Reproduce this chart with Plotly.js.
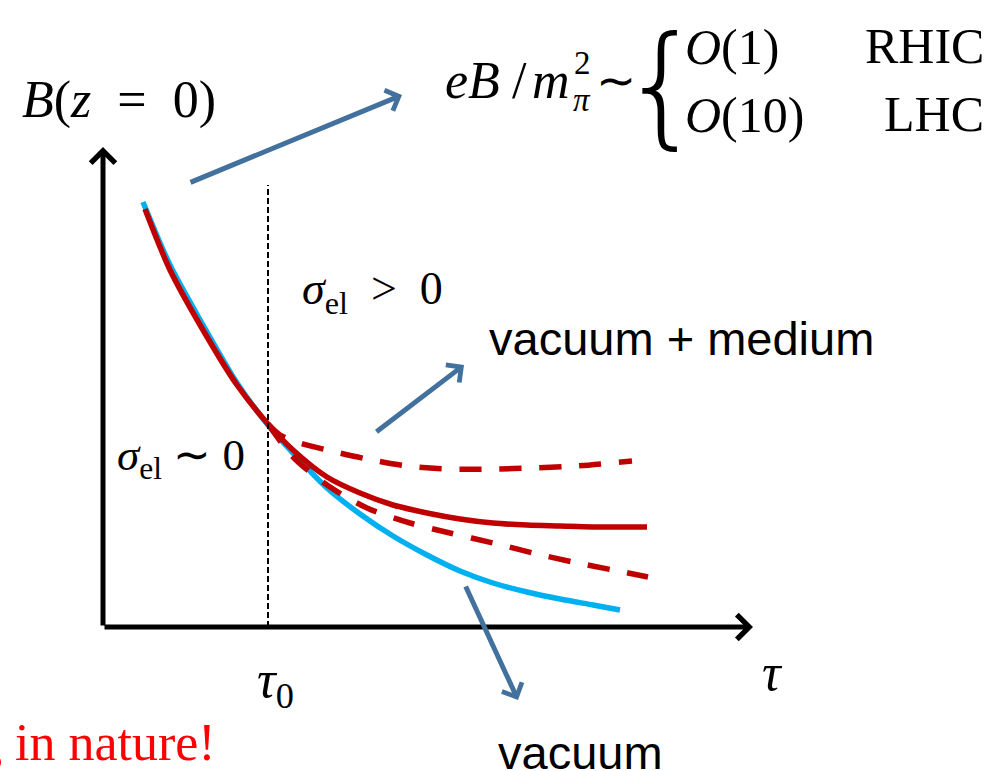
<!DOCTYPE html>
<html>
<head>
<meta charset="utf-8">
<script src="https://cdn.plot.ly/plotly-3.0.1.min.js"></script>
<style>
  html, body { margin: 0; padding: 0; background: #ffffff; }
  #chart { width: 1002px; height: 771px; }
</style>
</head>
<body>
<div id="chart"></div>
<script>
// Schematic decay of the magnetic field B(z=0) with proper time tau.
// tau in arbitrary units (tau0 = 1.65), B in arbitrary units.

// vacuum field (cyan)
const tauVacuum = [0.40, 0.67, 1.00, 1.34, 1.65, 1.90, 2.24, 2.57, 2.90, 3.24, 3.57, 3.90, 4.24, 4.57, 4.90, 5.17];
const bVacuum   = [4.25, 3.62, 3.02, 2.44, 2.02, 1.74, 1.39, 1.13, 0.91, 0.72, 0.56, 0.44, 0.35, 0.28, 0.22, 0.17];

// vacuum + medium (solid red)
const tauMedium = [0.42, 0.67, 1.00, 1.34, 1.65, 1.90, 2.24, 2.57, 2.90, 3.24, 3.57, 3.90, 4.24, 4.57, 4.90, 5.44];
const bMedium   = [4.18, 3.57, 2.97, 2.42, 2.03, 1.77, 1.50, 1.34, 1.22, 1.14, 1.08, 1.04, 1.02, 1.01, 1.00, 1.00];

// upper bound of the medium response (dashed red)
const tauUpper = [1.65, 1.77, 1.97, 2.24, 2.64, 3.04, 3.47, 3.90, 4.30, 4.74, 5.29];
const bUpper   = [2.03, 1.92, 1.84, 1.77, 1.68, 1.61, 1.58, 1.58, 1.59, 1.61, 1.66];

// lower bound of the medium response (dashed red)
const tauLower = [1.65, 1.90, 2.24, 2.64, 3.07, 3.47, 3.90, 4.30, 4.70, 5.10, 5.45];
const bLower   = [2.03, 1.70, 1.42, 1.19, 1.04, 0.94, 0.84, 0.74, 0.65, 0.57, 0.50];

// formation time marker
const tau0 = 1.65;
const tau0LineTop = 4.42;

// axis arrows: origin and tips
const axisOrigin = [0, 0];
const tauAxisEnd = 6.50;
const bAxisEnd = 4.80;

// pointer arrows [tailTau, tailB, tipTau, tipB]
const pointerField  = [0.86, 4.44, 2.99, 5.32];
const pointerMedium = [2.72, 1.94, 3.61, 2.62];
const pointerVacuum = [3.62, 0.42, 4.15, -0.73];

const RED = '#C00000';
const CYAN = '#00B0F0';
const STEEL = '#41719C';
const SERIF = '"Liberation Serif", "Times New Roman", serif';
const SANS = '"Liberation Sans", Arial, sans-serif';
const THIN = '"DejaVu Sans ExtraLight", "DejaVu Sans", sans-serif';
const ENSP = '\u2002';

const traces = [
  { x: tauVacuum, y: bVacuum, mode: 'lines', line: { color: CYAN, width: 5.5, shape: 'spline', smoothing: 0.8 }, hoverinfo: 'skip' },
  { x: tauMedium, y: bMedium, mode: 'lines', line: { color: RED, width: 5.5, shape: 'spline', smoothing: 0.8 }, hoverinfo: 'skip' },
  { x: tauUpper, y: bUpper, mode: 'lines', line: { color: RED, width: 5.5, shape: 'spline', smoothing: 0.8, dash: '22px,18px' }, hoverinfo: 'skip' },
  { x: tauLower, y: bLower, mode: 'lines', line: { color: RED, width: 5.5, shape: 'spline', smoothing: 0.8, dash: '22px,18px' }, hoverinfo: 'skip' },
  { x: [tau0, tau0], y: [0, tau0LineTop], mode: 'lines', line: { color: '#000000', width: 2, dash: '6px,3px' }, hoverinfo: 'skip' }
];

function arrow(tip, tail, color, width, size) {
  return {
    x: tip[0], y: tip[1], ax: tail[0], ay: tail[1],
    xref: 'x', yref: 'y', axref: 'x', ayref: 'y',
    text: '', showarrow: true, arrowhead: 4, arrowsize: size,
    arrowwidth: width, arrowcolor: color, standoff: 0, startstandoff: 0
  };
}

function label(text, x, y, opts) {
  return Object.assign({
    x: x, y: y, xref: 'x', yref: 'y', text: text, showarrow: false,
    xanchor: 'center', yanchor: 'middle',
    font: { family: SERIF, size: 46, color: '#000000' }
  }, opts || {});
}

function serif(size, color) {
  return { family: SERIF, size: size, color: color || '#000000' };
}

const annotations = [
  // coordinate axes
  arrow([tauAxisEnd, 0], axisOrigin, '#000000', 5, 0.95),
  arrow([0, bAxisEnd], axisOrigin, '#000000', 5, 0.95),
  // pointers
  arrow([pointerField[2], pointerField[3]], [pointerField[0], pointerField[1]], STEEL, 5, 0.85),
  arrow([pointerMedium[2], pointerMedium[3]], [pointerMedium[0], pointerMedium[1]], STEEL, 5, 0.85),
  arrow([pointerVacuum[2], pointerVacuum[3]], [pointerVacuum[0], pointerVacuum[1]], STEEL, 5, 0.85),

  // axis labels
  label('<i>B</i>(<i>z</i>' + ENSP + '=' + ENSP + '0)', 0.16, 5.27, { font: serif(52) }),
  label('<i>τ</i><sub>0</sub>', 1.72, -0.56, { font: serif(52) }),
  label('<i>τ</i>', 6.69, -0.45, { font: serif(52) }),

  // field strength estimate
  label('<i>eB</i>', 3.40, 5.47, { xanchor: 'left', font: serif(52) }),
  label('/', 4.16, 5.47, { font: serif(52) }),
  label('<i>m</i>', 4.27, 5.47, { xanchor: 'left', font: serif(52) }),
  label('2', 4.79, 5.64, { font: serif(33) }),
  label('<i>π</i>', 4.79, 5.27, { font: serif(33) }),
  label('∼', 5.13, 5.47, { font: serif(48) }),
  label('{', 5.59, 5.43, { font: { family: THIN, size: 132, color: '#000', weight: 200 } }),
  label('<i>O</i>(1)', 5.80, 5.80, { xanchor: 'left', font: serif(50) }),
  label('RHIC', 8.83, 5.81, { xanchor: 'right', font: serif(50) }),
  label('<i>O</i>(10)', 5.80, 5.12, { xanchor: 'left', font: serif(50) }),
  label('LHC', 8.83, 5.13, { xanchor: 'right', font: serif(50) }),

  // conductivity regimes
  label('<i>σ</i><sub>el</sub>' + ENSP + '>' + ENSP + '0', 1.97, 3.35, { xanchor: 'left', font: serif(46) }),
  label('<i>σ</i><sub>el</sub> ∼ 0', 0.12, 1.69, { xanchor: 'left', font: serif(45) }),

  // curve names
  label('vacuum + medium', 5.78, 2.89, { font: { family: SANS, size: 47, color: '#000' } }),
  label('vacuum', 4.77, -1.25, { font: { family: SANS, size: 47, color: '#000' } }),

  label('g in nature!', 1.15, -1.15, { xanchor: 'right', font: serif(52, '#FF0000') })
];

const hiddenAxis = {
  visible: false, showgrid: false, zeroline: false, showticklabels: false, fixedrange: true
};

const layout = {
  width: 1002,
  height: 771,
  margin: { l: 0, r: 0, t: 0, b: 0 },
  paper_bgcolor: '#ffffff',
  plot_bgcolor: '#ffffff',
  showlegend: false,
  xaxis: Object.assign({ range: [-1.03, 8.99] }, hiddenAxis),
  yaxis: Object.assign({ range: [-1.44, 6.27] }, hiddenAxis),
  annotations: annotations
};

Plotly.newPlot('chart', traces, layout, { displayModeBar: false, staticPlot: true });
</script>
</body>
</html>
